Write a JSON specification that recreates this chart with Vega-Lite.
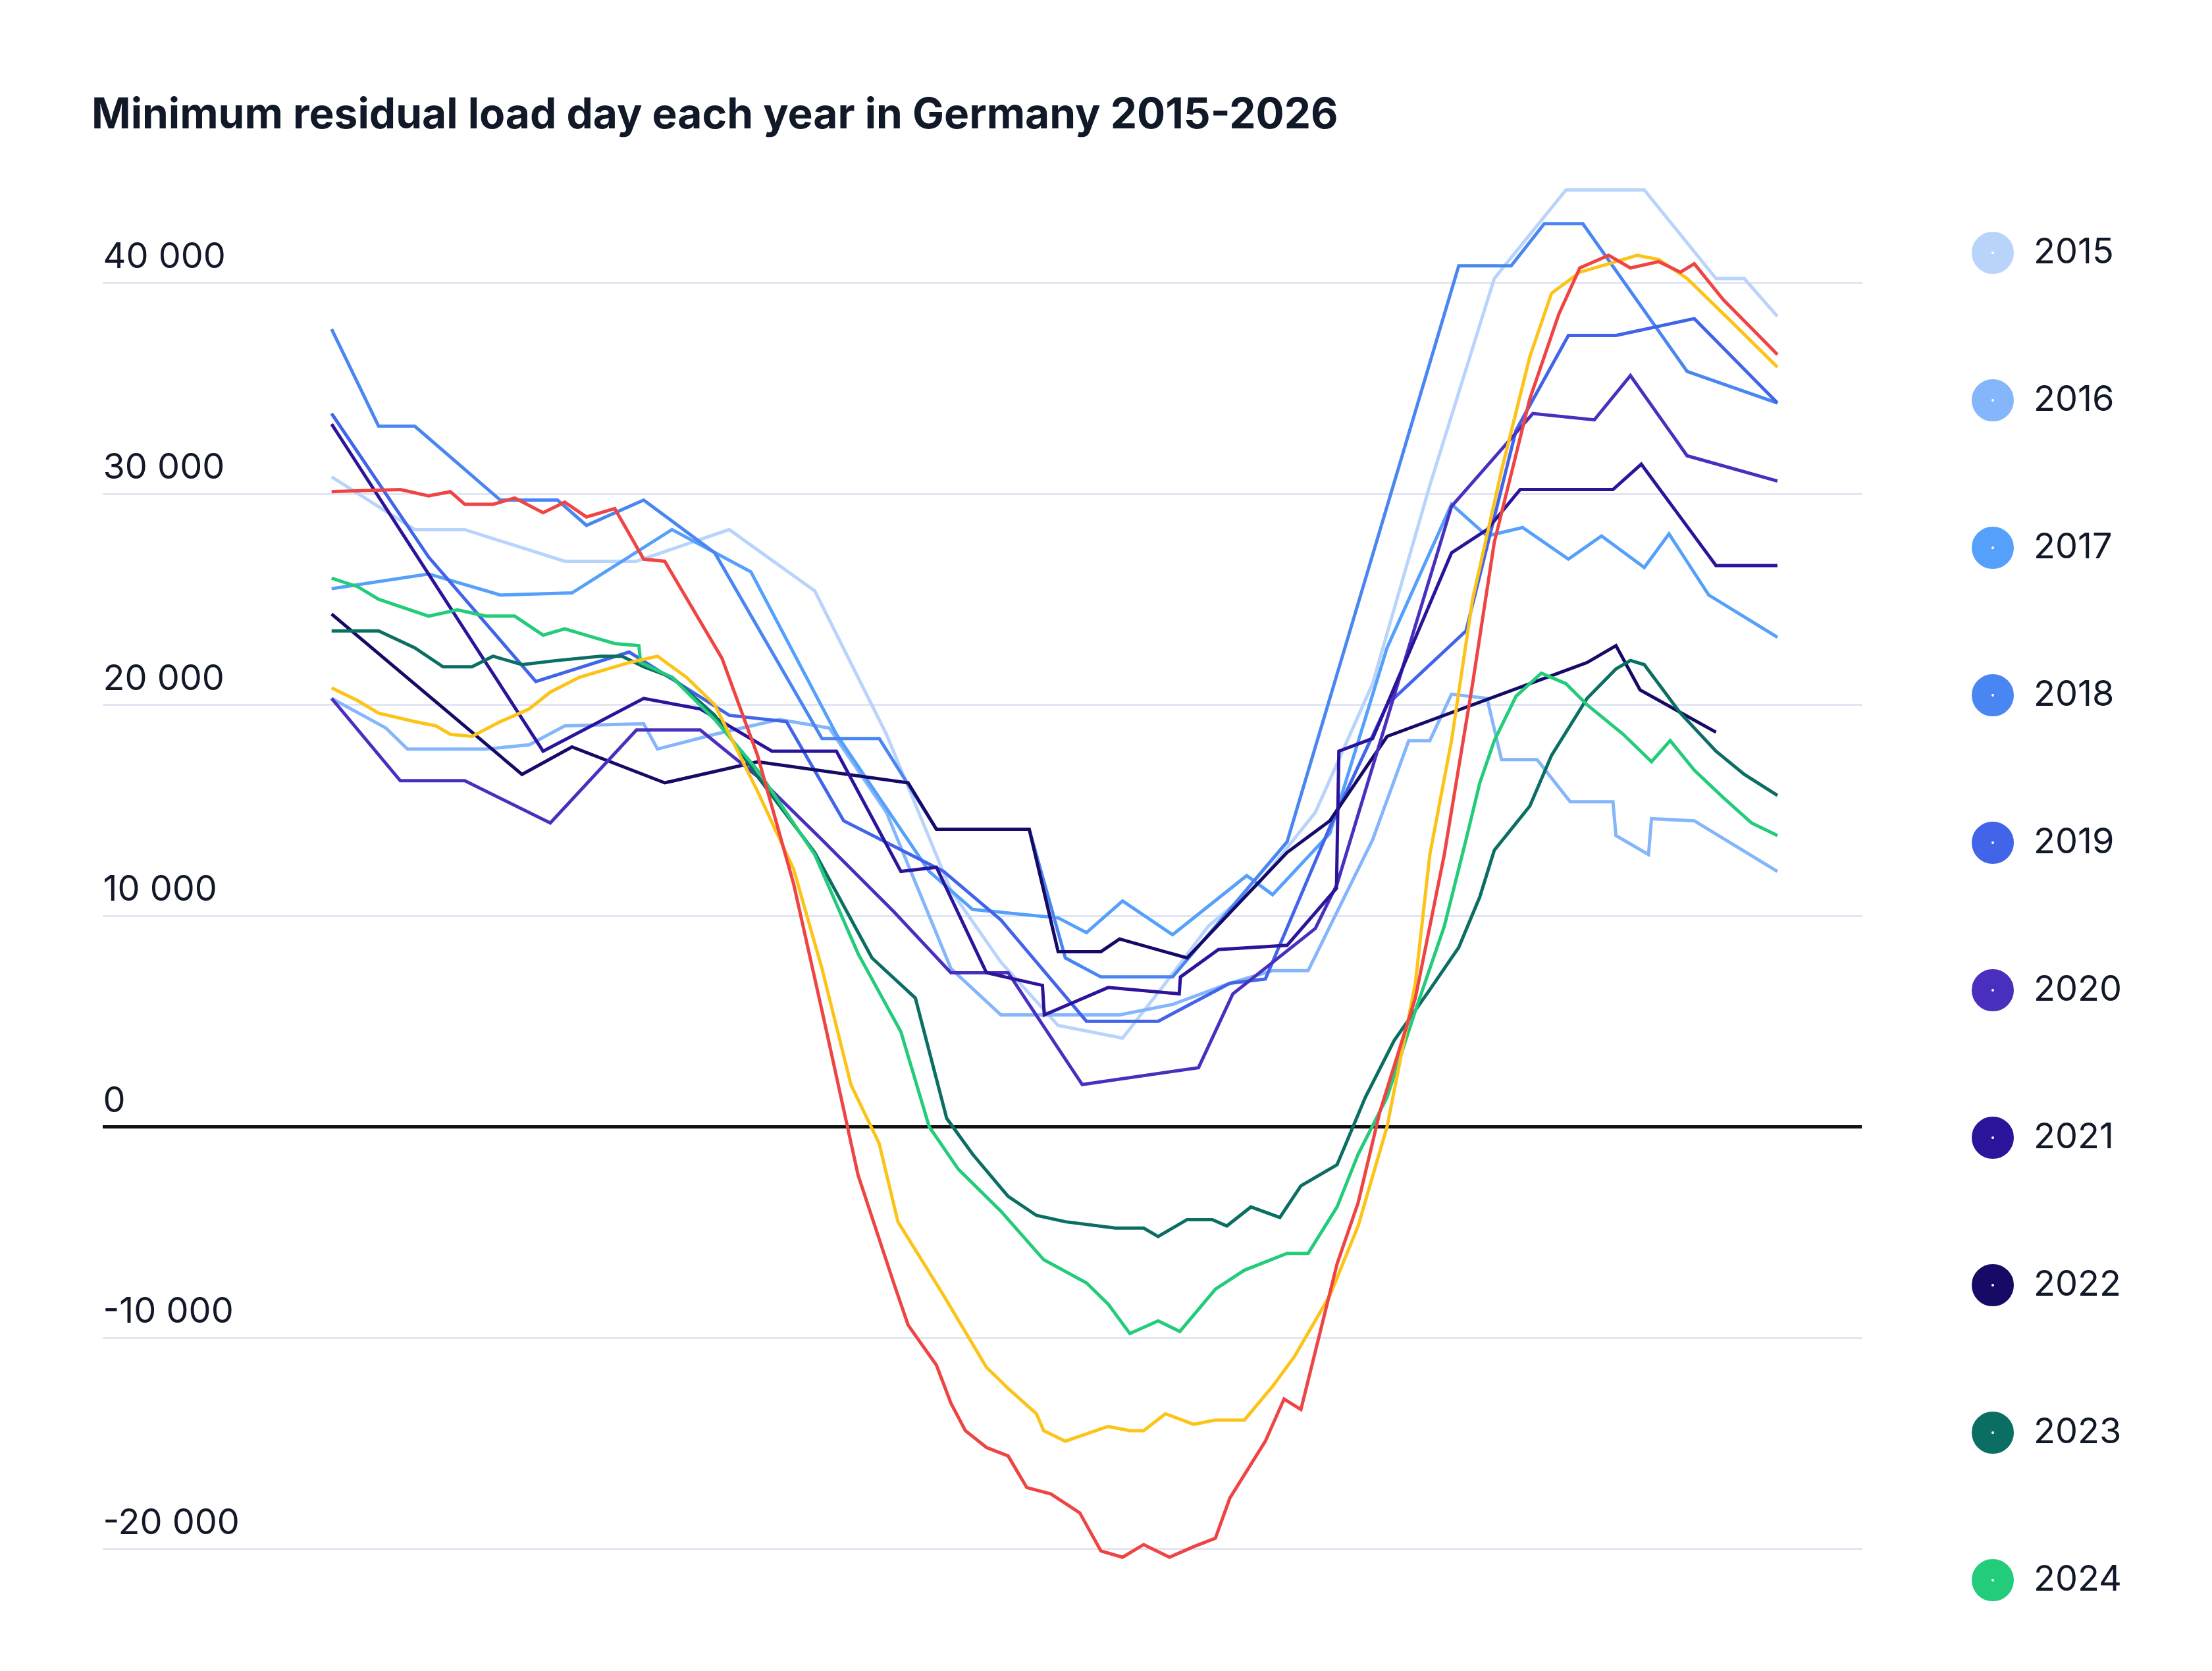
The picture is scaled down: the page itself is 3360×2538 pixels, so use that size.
{
  "$schema": "https://vega.github.io/schema/vega-lite/v6.json",
  "width": 2672,
  "height": 2080,
  "autosize": "none",
  "padding": {"left": 156, "top": 282, "right": 532, "bottom": 176},
  "background": "white",
  "title": {
    "text": "Minimum residual load day each year in Germany 2015-2026",
    "anchor": "start",
    "frame": "group",
    "dx": -17,
    "offset": 70,
    "fontSize": 64,
    "fontWeight": "bold",
    "color": "#111827"
  },
  "data": {"values": [
    {"year":"2015","hour":0,"load":30800},{"year":"2015","hour":1.38,"load":28300},{"year":"2015","hour":2.21,"load":28300},{"year":"2015","hour":3.87,"load":26800},{"year":"2015","hour":5.06,"load":26800},{"year":"2015","hour":6.6,"load":28300},{"year":"2015","hour":8.02,"load":25400},{"year":"2015","hour":9.21,"load":18600},{"year":"2015","hour":10.28,"load":11200},{"year":"2015","hour":11.11,"load":7800},{"year":"2015","hour":12.06,"load":4800},{"year":"2015","hour":13.13,"load":4200},{"year":"2015","hour":13.84,"load":6800},{"year":"2015","hour":14.55,"load":9500},{"year":"2015","hour":15.38,"load":11500},{"year":"2015","hour":16.33,"load":14900},{"year":"2015","hour":17.28,"load":21000},{"year":"2015","hour":18.23,"load":30400},{"year":"2015","hour":19.3,"load":40200},{"year":"2015","hour":20.49,"load":44400},{"year":"2015","hour":21.79,"load":44400},{"year":"2015","hour":22.98,"load":40200},{"year":"2015","hour":23.45,"load":40200},{"year":"2015","hour":24,"load":38400},

    {"year":"2016","hour":0,"load":20300},{"year":"2016","hour":0.9,"load":18900},{"year":"2016","hour":1.26,"load":17900},{"year":"2016","hour":2.56,"load":17900},{"year":"2016","hour":3.28,"load":18100},{"year":"2016","hour":3.87,"load":19000},{"year":"2016","hour":5.18,"load":19100},{"year":"2016","hour":5.41,"load":17900},{"year":"2016","hour":6.36,"load":18600},{"year":"2016","hour":7.43,"load":19300},{"year":"2016","hour":8.26,"load":18900},{"year":"2016","hour":9.21,"load":14900},{"year":"2016","hour":10.28,"load":7500},{"year":"2016","hour":11.11,"load":5300},{"year":"2016","hour":12.06,"load":5300},{"year":"2016","hour":13.08,"load":5300},{"year":"2016","hour":13.96,"load":5800},{"year":"2016","hour":14.91,"load":6800},{"year":"2016","hour":15.62,"load":7400},{"year":"2016","hour":16.21,"load":7400},{"year":"2016","hour":17.28,"load":13600},{"year":"2016","hour":17.88,"load":18300},{"year":"2016","hour":18.23,"load":18300},{"year":"2016","hour":18.59,"load":20500},{"year":"2016","hour":19.18,"load":20300},{"year":"2016","hour":19.42,"load":17400},{"year":"2016","hour":20.01,"load":17400},{"year":"2016","hour":20.56,"load":15400},{"year":"2016","hour":21.27,"load":15400},{"year":"2016","hour":21.32,"load":13800},{"year":"2016","hour":21.86,"load":12900},{"year":"2016","hour":21.91,"load":14600},{"year":"2016","hour":22.62,"load":14500},{"year":"2016","hour":24,"load":12100},

    {"year":"2017","hour":0,"load":25500},{"year":"2017","hour":1.61,"load":26200},{"year":"2017","hour":2.8,"load":25200},{"year":"2017","hour":3.99,"load":25300},{"year":"2017","hour":5.65,"load":28300},{"year":"2017","hour":6.96,"load":26300},{"year":"2017","hour":8.38,"load":18600},{"year":"2017","hour":9.92,"load":12100},{"year":"2017","hour":10.64,"load":10300},{"year":"2017","hour":12.06,"load":9900},{"year":"2017","hour":12.53,"load":9200},{"year":"2017","hour":13.13,"load":10700},{"year":"2017","hour":13.96,"load":9100},{"year":"2017","hour":15.19,"load":11900},{"year":"2017","hour":15.62,"load":11000},{"year":"2017","hour":16.57,"load":13900},{"year":"2017","hour":17.52,"load":22700},{"year":"2017","hour":18.59,"load":29500},{"year":"2017","hour":19.18,"load":28000},{"year":"2017","hour":19.77,"load":28400},{"year":"2017","hour":20.53,"load":26900},{"year":"2017","hour":21.08,"load":28000},{"year":"2017","hour":21.79,"load":26500},{"year":"2017","hour":22.2,"load":28100},{"year":"2017","hour":22.86,"load":25200},{"year":"2017","hour":24,"load":23200},

    {"year":"2018","hour":0,"load":37800},{"year":"2018","hour":0.78,"load":33200},{"year":"2018","hour":1.38,"load":33200},{"year":"2018","hour":2.8,"load":29700},{"year":"2018","hour":3.75,"load":29700},{"year":"2018","hour":4.23,"load":28500},{"year":"2018","hour":5.18,"load":29700},{"year":"2018","hour":6.36,"load":27200},{"year":"2018","hour":8.14,"load":18400},{"year":"2018","hour":9.09,"load":18400},{"year":"2018","hour":10.04,"load":14100},{"year":"2018","hour":11.58,"load":14100},{"year":"2018","hour":12.18,"load":8000},{"year":"2018","hour":12.77,"load":7100},{"year":"2018","hour":13.96,"load":7100},{"year":"2018","hour":15.86,"load":13500},{"year":"2018","hour":18.71,"load":40800},{"year":"2018","hour":19.58,"load":40800},{"year":"2018","hour":20.13,"load":42800},{"year":"2018","hour":20.77,"load":42800},{"year":"2018","hour":22.5,"load":35800},{"year":"2018","hour":24,"load":34300},

    {"year":"2019","hour":0,"load":33800},{"year":"2019","hour":1.61,"load":27000},{"year":"2019","hour":3.39,"load":21100},{"year":"2019","hour":4.94,"load":22500},{"year":"2019","hour":6.6,"load":19500},{"year":"2019","hour":7.55,"load":19200},{"year":"2019","hour":8.5,"load":14500},{"year":"2019","hour":10.16,"load":12100},{"year":"2019","hour":11.11,"load":9800},{"year":"2019","hour":12.53,"load":5000},{"year":"2019","hour":13.72,"load":5000},{"year":"2019","hour":14.91,"load":6800},{"year":"2019","hour":15.5,"load":7000},{"year":"2019","hour":16.57,"load":14200},{"year":"2019","hour":17.52,"load":20000},{"year":"2019","hour":18.83,"load":23500},{"year":"2019","hour":19.66,"load":33000},{"year":"2019","hour":20.53,"load":37500},{"year":"2019","hour":21.32,"load":37500},{"year":"2019","hour":22.62,"load":38300},{"year":"2019","hour":24,"load":34300},

    {"year":"2022","hour":0,"load":24300},{"year":"2022","hour":3.16,"load":16700},{"year":"2022","hour":3.99,"load":18000},{"year":"2022","hour":5.53,"load":16300},{"year":"2022","hour":7.07,"load":17300},{"year":"2022","hour":9.57,"load":16300},{"year":"2022","hour":10.04,"load":14100},{"year":"2022","hour":11.58,"load":14100},{"year":"2022","hour":12.06,"load":8300},{"year":"2022","hour":12.77,"load":8300},{"year":"2022","hour":13.08,"load":8900},{"year":"2022","hour":14.2,"load":8000},{"year":"2022","hour":15.86,"load":13000},{"year":"2022","hour":16.57,"load":14500},{"year":"2022","hour":17.52,"load":18500},{"year":"2022","hour":20.84,"load":22000},{"year":"2022","hour":21.32,"load":22800},{"year":"2022","hour":21.72,"load":20700},{"year":"2022","hour":22.98,"load":18700},

    {"year":"2020","hour":0,"load":20300},{"year":"2020","hour":1.14,"load":16400},{"year":"2020","hour":2.21,"load":16400},{"year":"2020","hour":3.63,"load":14400},{"year":"2020","hour":5.06,"load":18800},{"year":"2020","hour":6.12,"load":18800},{"year":"2020","hour":7.07,"load":16600},{"year":"2020","hour":8.14,"load":13600},{"year":"2020","hour":9.33,"load":10200},{"year":"2020","hour":10.28,"load":7300},{"year":"2020","hour":11.23,"load":7300},{"year":"2020","hour":12.46,"load":2000},{"year":"2020","hour":14.39,"load":2800},{"year":"2020","hour":14.96,"load":6300},{"year":"2020","hour":16.33,"load":9400},{"year":"2020","hour":16.69,"load":11500},{"year":"2020","hour":18.59,"load":29400},{"year":"2020","hour":19.94,"load":33800},{"year":"2020","hour":20.96,"load":33500},{"year":"2020","hour":21.56,"load":35600},{"year":"2020","hour":22.5,"load":31800},{"year":"2020","hour":24,"load":30600},

    {"year":"2021","hour":0,"load":33300},{"year":"2021","hour":3.51,"load":17800},{"year":"2021","hour":5.18,"load":20300},{"year":"2021","hour":6.12,"load":19800},{"year":"2021","hour":7.31,"load":17800},{"year":"2021","hour":8.38,"load":17800},{"year":"2021","hour":9.45,"load":12100},{"year":"2021","hour":10.04,"load":12300},{"year":"2021","hour":10.87,"load":7300},{"year":"2021","hour":11.8,"load":6700},{"year":"2021","hour":11.83,"load":5300},{"year":"2021","hour":12.89,"load":6600},{"year":"2021","hour":14.07,"load":6300},{"year":"2021","hour":14.09,"load":7100},{"year":"2021","hour":14.72,"load":8400},{"year":"2021","hour":15.86,"load":8600},{"year":"2021","hour":16.68,"load":11300},{"year":"2021","hour":16.72,"load":17800},{"year":"2021","hour":17.28,"load":18400},{"year":"2021","hour":18.59,"load":27200},{"year":"2021","hour":19.18,"load":28300},{"year":"2021","hour":19.73,"load":30200},{"year":"2021","hour":21.27,"load":30200},{"year":"2021","hour":21.74,"load":31400},{"year":"2021","hour":22.98,"load":26600},{"year":"2021","hour":24,"load":26600},

    {"year":"2023","hour":0,"load":23500},{"year":"2023","hour":0.78,"load":23500},{"year":"2023","hour":1.38,"load":22700},{"year":"2023","hour":1.85,"load":21800},{"year":"2023","hour":2.33,"load":21800},{"year":"2023","hour":2.68,"load":22300},{"year":"2023","hour":3.16,"load":21900},{"year":"2023","hour":3.75,"load":22100},{"year":"2023","hour":4.46,"load":22300},{"year":"2023","hour":4.82,"load":22300},{"year":"2023","hour":5.18,"load":21800},{"year":"2023","hour":5.65,"load":21300},{"year":"2023","hour":6.36,"load":19500},{"year":"2023","hour":7.07,"load":16600},{"year":"2023","hour":8.02,"load":13000},{"year":"2023","hour":8.97,"load":8000},{"year":"2023","hour":9.69,"load":6100},{"year":"2023","hour":10.21,"load":400},{"year":"2023","hour":10.64,"load":-1300},{"year":"2023","hour":11.23,"load":-3300},{"year":"2023","hour":11.7,"load":-4200},{"year":"2023","hour":12.18,"load":-4500},{"year":"2023","hour":13.01,"load":-4800},{"year":"2023","hour":13.48,"load":-4800},{"year":"2023","hour":13.72,"load":-5200},{"year":"2023","hour":14.2,"load":-4400},{"year":"2023","hour":14.62,"load":-4400},{"year":"2023","hour":14.86,"load":-4700},{"year":"2023","hour":15.26,"load":-3800},{"year":"2023","hour":15.74,"load":-4300},{"year":"2023","hour":16.09,"load":-2800},{"year":"2023","hour":16.69,"load":-1800},{"year":"2023","hour":17.16,"load":1400},{"year":"2023","hour":17.64,"load":4100},{"year":"2023","hour":18.23,"load":6500},{"year":"2023","hour":18.71,"load":8500},{"year":"2023","hour":19.06,"load":10900},{"year":"2023","hour":19.3,"load":13100},{"year":"2023","hour":19.89,"load":15200},{"year":"2023","hour":20.25,"load":17600},{"year":"2023","hour":20.84,"load":20300},{"year":"2023","hour":21.32,"load":21700},{"year":"2023","hour":21.56,"load":22100},{"year":"2023","hour":21.79,"load":21900},{"year":"2023","hour":22.39,"load":19600},{"year":"2023","hour":22.98,"load":17800},{"year":"2023","hour":23.45,"load":16700},{"year":"2023","hour":24,"load":15700},

    {"year":"2024","hour":0,"load":26000},{"year":"2024","hour":0.43,"load":25600},{"year":"2024","hour":0.78,"load":25000},{"year":"2024","hour":1.61,"load":24200},{"year":"2024","hour":2.09,"load":24500},{"year":"2024","hour":2.56,"load":24200},{"year":"2024","hour":3.04,"load":24200},{"year":"2024","hour":3.51,"load":23300},{"year":"2024","hour":3.87,"load":23600},{"year":"2024","hour":4.34,"load":23200},{"year":"2024","hour":4.7,"load":22900},{"year":"2024","hour":5.1,"load":22800},{"year":"2024","hour":5.13,"load":22000},{"year":"2024","hour":5.65,"load":21300},{"year":"2024","hour":6.36,"load":19300},{"year":"2024","hour":7.07,"load":16900},{"year":"2024","hour":8.02,"load":12900},{"year":"2024","hour":8.74,"load":8200},{"year":"2024","hour":9.45,"load":4500},{"year":"2024","hour":9.92,"load":0},{"year":"2024","hour":10.4,"load":-2000},{"year":"2024","hour":11.11,"load":-4000},{"year":"2024","hour":11.82,"load":-6300},{"year":"2024","hour":12.53,"load":-7400},{"year":"2024","hour":12.89,"load":-8400},{"year":"2024","hour":13.25,"load":-9800},{"year":"2024","hour":13.72,"load":-9200},{"year":"2024","hour":14.08,"load":-9700},{"year":"2024","hour":14.67,"load":-7700},{"year":"2024","hour":15.15,"load":-6800},{"year":"2024","hour":15.86,"load":-6000},{"year":"2024","hour":16.21,"load":-6000},{"year":"2024","hour":16.69,"load":-3800},{"year":"2024","hour":17.04,"load":-1300},{"year":"2024","hour":17.52,"load":1400},{"year":"2024","hour":17.99,"load":5500},{"year":"2024","hour":18.47,"load":9500},{"year":"2024","hour":18.83,"load":13600},{"year":"2024","hour":19.06,"load":16300},{"year":"2024","hour":19.3,"load":18300},{"year":"2024","hour":19.66,"load":20400},{"year":"2024","hour":20.08,"load":21500},{"year":"2024","hour":20.49,"load":21000},{"year":"2024","hour":20.84,"load":20000},{"year":"2024","hour":21.44,"load":18600},{"year":"2024","hour":21.91,"load":17300},{"year":"2024","hour":22.22,"load":18300},{"year":"2024","hour":22.62,"load":16900},{"year":"2024","hour":23.1,"load":15600},{"year":"2024","hour":23.57,"load":14400},{"year":"2024","hour":24,"load":13800},

    {"year":"2025","hour":0,"load":20800},{"year":"2025","hour":0.43,"load":20200},{"year":"2025","hour":0.78,"load":19600},{"year":"2025","hour":1.38,"load":19200},{"year":"2025","hour":1.73,"load":19000},{"year":"2025","hour":1.97,"load":18600},{"year":"2025","hour":2.33,"load":18500},{"year":"2025","hour":2.8,"load":19200},{"year":"2025","hour":3.28,"load":19800},{"year":"2025","hour":3.63,"load":20600},{"year":"2025","hour":4.11,"load":21300},{"year":"2025","hour":4.94,"load":22000},{"year":"2025","hour":5.41,"load":22300},{"year":"2025","hour":5.89,"load":21300},{"year":"2025","hour":6.36,"load":20000},{"year":"2025","hour":7.07,"load":15900},{"year":"2025","hour":7.67,"load":12200},{"year":"2025","hour":8.14,"load":7500},{"year":"2025","hour":8.62,"load":2000},{"year":"2025","hour":9.09,"load":-800},{"year":"2025","hour":9.4,"load":-4500},{"year":"2025","hour":10.16,"load":-8000},{"year":"2025","hour":10.87,"load":-11400},{"year":"2025","hour":11.23,"load":-12400},{"year":"2025","hour":11.7,"load":-13600},{"year":"2025","hour":11.82,"load":-14400},{"year":"2025","hour":12.18,"load":-14900},{"year":"2025","hour":12.89,"load":-14200},{"year":"2025","hour":13.25,"load":-14400},{"year":"2025","hour":13.48,"load":-14400},{"year":"2025","hour":13.84,"load":-13600},{"year":"2025","hour":14.31,"load":-14100},{"year":"2025","hour":14.67,"load":-13900},{"year":"2025","hour":15.15,"load":-13900},{"year":"2025","hour":15.62,"load":-12300},{"year":"2025","hour":15.98,"load":-10900},{"year":"2025","hour":16.57,"load":-8000},{"year":"2025","hour":17.04,"load":-4700},{"year":"2025","hour":17.52,"load":0},{"year":"2025","hour":17.99,"load":6800},{"year":"2025","hour":18.23,"load":12900},{"year":"2025","hour":18.59,"load":18300},{"year":"2025","hour":18.94,"load":25000},{"year":"2025","hour":19.42,"load":31100},{"year":"2025","hour":19.89,"load":36500},{"year":"2025","hour":20.25,"load":39500},{"year":"2025","hour":20.72,"load":40500},{"year":"2025","hour":21.2,"load":40900},{"year":"2025","hour":21.67,"load":41300},{"year":"2025","hour":22.03,"load":41100},{"year":"2025","hour":22.5,"load":40200},{"year":"2025","hour":23.22,"load":38200},{"year":"2025","hour":24,"load":36000},

    {"year":"2026","hour":0,"load":30100},{"year":"2026","hour":1.14,"load":30200},{"year":"2026","hour":1.61,"load":29900},{"year":"2026","hour":1.97,"load":30100},{"year":"2026","hour":2.21,"load":29500},{"year":"2026","hour":2.68,"load":29500},{"year":"2026","hour":3.04,"load":29800},{"year":"2026","hour":3.51,"load":29100},{"year":"2026","hour":3.87,"load":29600},{"year":"2026","hour":4.23,"load":28900},{"year":"2026","hour":4.7,"load":29300},{"year":"2026","hour":5.18,"load":26900},{"year":"2026","hour":5.53,"load":26800},{"year":"2026","hour":6.48,"load":22200},{"year":"2026","hour":7.07,"load":17600},{"year":"2026","hour":7.67,"load":11500},{"year":"2026","hour":8.14,"load":5500},{"year":"2026","hour":8.74,"load":-2300},{"year":"2026","hour":9.33,"load":-7400},{"year":"2026","hour":9.57,"load":-9400},{"year":"2026","hour":10.04,"load":-11300},{"year":"2026","hour":10.28,"load":-13100},{"year":"2026","hour":10.52,"load":-14400},{"year":"2026","hour":10.87,"load":-15200},{"year":"2026","hour":11.23,"load":-15600},{"year":"2026","hour":11.54,"load":-17100},{"year":"2026","hour":11.94,"load":-17400},{"year":"2026","hour":12.42,"load":-18300},{"year":"2026","hour":12.77,"load":-20100},{"year":"2026","hour":13.13,"load":-20400},{"year":"2026","hour":13.48,"load":-19800},{"year":"2026","hour":13.91,"load":-20400},{"year":"2026","hour":14.31,"load":-19900},{"year":"2026","hour":14.67,"load":-19500},{"year":"2026","hour":14.91,"load":-17600},{"year":"2026","hour":15.5,"load":-14900},{"year":"2026","hour":15.81,"load":-12900},{"year":"2026","hour":16.09,"load":-13400},{"year":"2026","hour":16.69,"load":-6500},{"year":"2026","hour":17.04,"load":-3600},{"year":"2026","hour":17.4,"load":700},{"year":"2026","hour":17.99,"load":6100},{"year":"2026","hour":18.47,"load":12900},{"year":"2026","hour":18.94,"load":21000},{"year":"2026","hour":19.3,"load":27700},{"year":"2026","hour":19.89,"load":34500},{"year":"2026","hour":20.37,"load":38500},{"year":"2026","hour":20.72,"load":40700},{"year":"2026","hour":21.2,"load":41300},{"year":"2026","hour":21.56,"load":40700},{"year":"2026","hour":22.03,"load":41000},{"year":"2026","hour":22.39,"load":40500},{"year":"2026","hour":22.62,"load":40900},{"year":"2026","hour":23.1,"load":39200},{"year":"2026","hour":24,"load":36600}
  ]},
  "layer": [
    {
      "mark": {"type": "rule", "color": "#111111", "strokeWidth": 4},
      "encoding": {"y": {"datum": 0, "type": "quantitative"}}
    },
    {
      "mark": {"type": "line", "strokeWidth": 5, "interpolate": "linear"},
      "encoding": {
        "x": {"field": "hour", "type": "quantitative", "scale": {"domain": [-3.8, 25.4], "nice": false, "zero": false}, "axis": null},
        "y": {
          "field": "load", "type": "quantitative",
          "scale": {"domain": [-20300, 44600], "nice": false},
          "axis": {
            "values": [-20000, -10000, 0, 10000, 20000, 30000, 40000],
            "format": ",d",
            "title": null, "domain": false, "ticks": false,
            "labelAlign": "left", "labelBaseline": "bottom", "labelPadding": 0, "labelOffset": -12,
            "labelLimit": 0,
            "labelFontSize": 54, "labelColor": "#111827",
            "grid": true, "gridColor": "#e2e5f3", "gridWidth": 3
          }
        },
        "color": {
          "field": "year", "type": "nominal",
          "scale": {
            "domain": ["2015","2016","2017","2018","2019","2020","2021","2022","2023","2024","2025","2026"],
            "range": ["#b9d4fb","#85b5fa","#55a0fb","#4a86f2","#4164e9","#4a2fbf","#2b1499","#150a66","#0b6e63","#22cc7a","#fcc419","#ef4444"]
          },
          "legend": {
            "title": null, "orient": "none", "legendX": 2839, "legendY": 70,
            "symbolType": "circle", "symbolSize": 900, "symbolStrokeWidth": 34,
            "labelFontSize": 54, "labelColor": "#111827", "labelOffset": 30,
            "labelLimit": 0,
            "rowPadding": 58, "symbolOpacity": 1
          }
        }
      }
    }
  ],
  "config": {
    "font": "Inter",
    "view": {"stroke": null},
    "locale": {"number": {"decimal": ".", "thousands": " ", "grouping": [3], "currency": ["", ""], "minus": "-"}}
  }
}
